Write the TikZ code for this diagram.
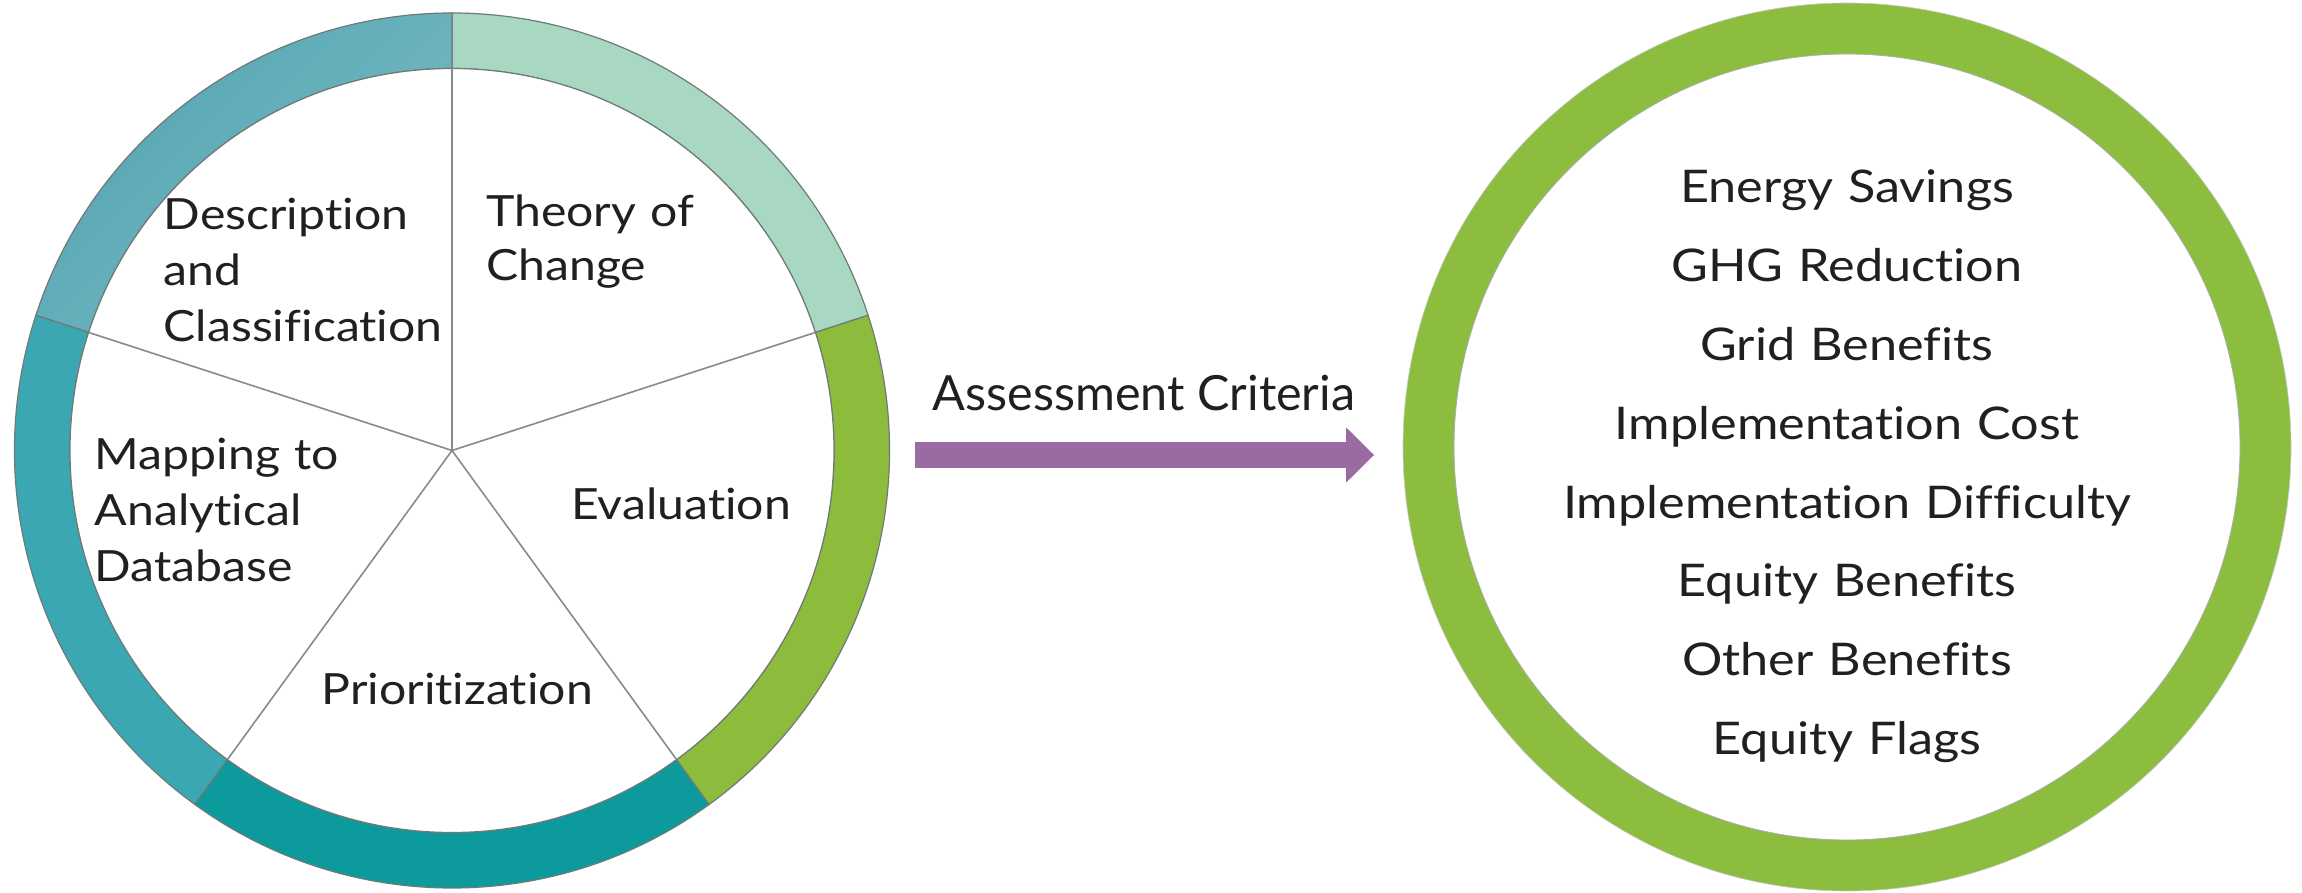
\documentclass[tikz,border=0pt]{standalone}
\usepackage{fontspec}
\setmainfont{Lato}
\newfontfamily\avfont{Lato}[FakeStretch=1.12, Ligatures=CommonOff]
\usetikzlibrary{arrows.meta,calc}
\definecolor{ctheoryc}{HTML}{A8D8C2}
\definecolor{cdesca}{HTML}{55A5B2}
\definecolor{cdescb}{HTML}{76BAC3}
\definecolor{cmapc}{HTML}{3AA7B2}
\definecolor{cprioc}{HTML}{0C9A9C}
\definecolor{cevalc}{HTML}{8DBB3C}
\definecolor{cgreen}{HTML}{8CBD3F}
\definecolor{ringedge}{HTML}{6E7A78}
\definecolor{spokec}{HTML}{8A8A8A}
\definecolor{txt}{HTML}{231F20}
\definecolor{arrowpurple}{HTML}{9A6AA2}
\tikzset{
  ctheory/.style={fill=ctheoryc},
  cdesc/.style={left color=cdesca, right color=cdescb, shading angle=45},
  cmap/.style={fill=cmapc},
  cprio/.style={fill=cprioc},
  ceval/.style={fill=cevalc},
  ringseg/.style={draw=ringedge, line width=1.2},
  spoke/.style={draw=spokec, line width=1.6},
  wheellabel/.style={anchor=base west, inner sep=0, text=txt, align=left, text width=360,
     font=\avfont\fontsize{43}{56}\selectfont},
  critlabel/.style={anchor=base, inner sep=0, text=txt, align=center, text width=760,
     font=\avfont\fontsize{45}{78.8}\selectfont},
  arrowlabel/.style={anchor=base west, inner sep=0, text=txt, font=\fontsize{48.5}{60}\selectfont},
  bigarrow/.style={draw=arrowpurple, line width=25.4,
     -{Triangle[width=55.4pt,length=28pt,line width=0pt]}}
}
\begin{document}
\begin{tikzpicture}[x=1pt,y=1pt]
\useasboundingbox (0,0) rectangle (2302,892);
\fill[white] (0,0) rectangle (2302,892);
% left wheel
\begin{scope}[shift={(452,441.5)}]
  \coordinate (lc) at (0,0);
  \foreach \a/\b/\c in {18/90/ctheory, 90/162/cdesc, 162/234/cmap, 234/306/cprio, 306/378/ceval}{
    \path[ringseg, \c] (\a:437.5) arc[start angle=\a, end angle=\b, radius=437.5]
       -- (\b:382) arc[start angle=\b, end angle=\a, radius=382] -- cycle;
  }
  \fill[white] (lc) circle (382);
  \draw[ringedge, line width=1.2] (lc) circle (382);
  \foreach \a [count=\i] in {90,18,-54,-126,162}{
    \coordinate (sp\i) at (\a:382);
    \draw[spoke] (lc) -- (sp\i);
  }
\end{scope}
\node[wheellabel] (desc) at (163.6,662) {Description\\and\\Classification};
\node[wheellabel, font=\avfont\fontsize{43}{54}\selectfont] (theory) at (486,665) {Theory of\\Change};
\node[wheellabel] (eval) at (571,372) {Evaluation};
\node[wheellabel] (map) at (94.7,422.3) {Mapping to\\Analytical\\Database};
\node[wheellabel] (prio) at (321.5,187) {Prioritization};
% arrow
\node[arrowlabel] (crit) at (932.7,481) {Assessment Criteria};
\coordinate (as) at (915,437);
\coordinate (ae) at (1374,437);
\draw[bigarrow] (as) -- (ae);
% right circle
\coordinate (rc) at (1847,445);
\fill[cgreen, even odd rule] (rc) circle (444) (rc) circle (393);
\draw[ringedge!60, line width=0.8] (rc) circle (393);
\draw[ringedge!40, line width=0.6] (rc) circle (444);
\node[critlabel] (list) at (1847,689) {Energy Savings\\GHG Reduction\\Grid Benefits\\Implementation Cost\\Implementation Difficulty\\Equity Benefits\\Other Benefits\\Equity Flags};
\end{tikzpicture}
\end{document}
